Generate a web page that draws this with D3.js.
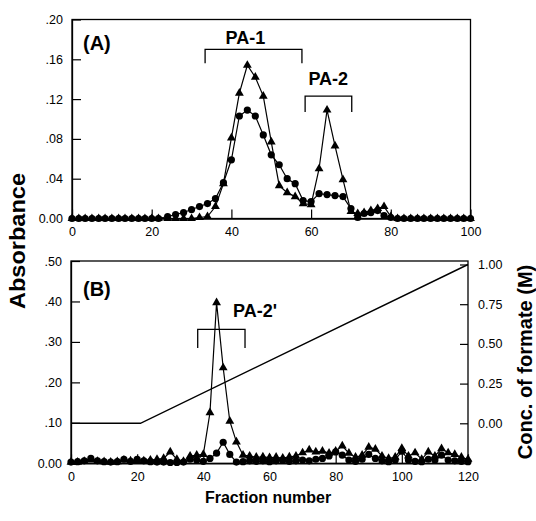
<!DOCTYPE html>
<html>
<head>
<meta charset="utf-8">
<script src="https://cdn.jsdelivr.net/npm/d3@7"></script>
<style>
  body { margin: 0; background: #fff; }
  svg text { font-family: "Liberation Sans", Arial, sans-serif; fill: #000; }
</style>
</head>
<body>
<div id="container"></div>
<script>
// Panel (A) data: fraction numbers and the two absorbance series
const fracA = [0, 1.7, 3.3, 5, 6.7, 8.3, 10, 11.7, 13.3, 15, 16.7, 18.3, 20, 21.7,
  24, 26, 28, 30, 32, 34, 36, 38, 40, 42, 44, 46, 48, 50, 52, 54, 56, 58, 60, 62, 64, 66, 68, 70,
  71.7, 73.3, 75, 76.7, 78.3, 80, 81.7, 83.3, 85, 86.7, 88.3, 90, 91.7, 93.3, 95, 96.7, 98.3, 100];
const circlesA = [0, 0, 0, 0, 0, 0, 0, 0, 0, 0, 0, 0, 0, 0,
  0.002, 0.004, 0.006, 0.009, 0.012, 0.015, 0.020, 0.036, 0.059, 0.103, 0.109, 0.103, 0.084, 0.064,
  0.054, 0.040, 0.035, 0.018, 0.017, 0.025, 0.024, 0.023, 0.022, 0.010,
  0.001, 0.005, 0.006, 0.008, 0.003, 0.001, 0, 0, 0, 0, 0, 0, 0, 0, 0, 0, 0, 0];
const trianglesA = [0, 0, 0, 0, 0, 0, 0, 0, 0, 0, 0, 0, 0, 0,
  0, 0, 0, 0, 0.001, 0.002, 0.012, 0.035, 0.081, 0.126, 0.154, 0.142, 0.123, 0.077,
  0.033, 0.026, 0.022, 0.015, 0.014, 0.050, 0.109, 0.073, 0.039, 0.007,
  0.005, 0.006, 0.008, 0.010, 0.012, 0.002, 0, 0, 0, 0, 0, 0, 0, 0, 0, 0, 0, 0];

// Panel (B) data
const fracB = [0, 2, 4, 6, 8, 10, 12, 14, 16, 18, 20, 22, 24, 26, 28, 30, 32, 34, 36, 38, 40,
  42, 44, 46, 48, 50, 52, 54, 56, 58, 60, 62, 64, 66, 68, 70, 72, 74, 76, 78, 80,
  82, 84, 86, 88, 90, 92, 94, 96, 98, 100, 102, 104, 106, 108, 110, 112, 114, 116, 118, 120];
const trianglesB = [0.003, 0.003, 0.005, 0.008, 0.005, 0.004, 0.003, 0.004, 0.008, 0.006, 0.005,
  0.006, 0.008, 0.010, 0.012, 0.028, 0.010, 0.005, 0.018, 0.020, 0.022,
  0.125, 0.397, 0.236, 0.104, 0.053, 0.020, 0.018, 0.015, 0.016, 0.014,
  0.015, 0.013, 0.016, 0.018, 0.026, 0.033, 0.028, 0.030, 0.025, 0.030,
  0.043, 0.025, 0.015, 0.020, 0.040, 0.035, 0.018, 0.012, 0.015, 0.037,
  0.018, 0.026, 0.010, 0.028, 0.018, 0.036, 0.026, 0.022, 0.015, 0.010];
const circlesB = [0.003, 0.004, 0.006, 0.012, 0.006, 0.004, 0.003, 0.004, 0.010, 0.005, 0.010,
  0.006, 0.004, 0.003, 0.003, 0.002, 0.002, 0.003, 0.010, 0.008, 0.005,
  0.012, 0.025, 0.052, 0.022, 0.003, 0.004, 0.006, 0.005, 0.006, 0.004,
  0.006, 0.007, 0.005, 0.006, 0.008, 0.006, 0.010, 0.012, 0.018, 0.028,
  0.020, 0.008, 0.005, 0.010, 0.022, 0.012, 0.006, 0.004, 0.008, 0.030,
  0.008, 0.005, 0.004, 0.010, 0.008, 0.020, 0.008, 0.006, 0.005, 0.004];

// formate gradient (M)
const gradFrac = [0, 21, 120];
const gradConc = [0, 0, 1.0];

// tick values
const ticksXA = [0, 20, 40, 60, 80, 100];
const ticksYA = [0, 0.04, 0.08, 0.12, 0.16, 0.20];
const ticksXB = [0, 20, 40, 60, 80, 100, 120];
const ticksYB = [0, 0.1, 0.2, 0.3, 0.4, 0.5];
const ticksConc = [0, 0.25, 0.5, 0.75, 1.0];

const width = 536;
const height = 521;

const svg = d3.create("svg")
  .attr("width", width)
  .attr("height", height)
  .attr("viewBox", [0, 0, width, height]);

// scales
const xA = d3.scaleLinear([0, 100], [72, 470.5]);
const yA = d3.scaleLinear([0, 0.2], [218.5, 19.5]);
const xB = d3.scaleLinear([0, 120], [71, 468]);
const yB = d3.scaleLinear([0, 0.5], [463.3, 261]);
const yC = d3.scaleLinear([0, 1], [423.3, 264.5]);

const absFmt = (d) => d === 0 ? "0.00" : d3.format(".2f")(d).replace(/^0/, "");

function drawAxes(x, y, tx, ty) {
  const [x0, x1] = x.range();
  const [y0, y1] = y.range();
  svg.append("rect")
    .attr("x", x0).attr("y", y1)
    .attr("width", x1 - x0).attr("height", y0 - y1)
    .attr("fill", "none").attr("stroke", "#000").attr("stroke-width", 1.3);

  const gx = svg.append("g")
    .attr("transform", `translate(0,${y0})`)
    .call(d3.axisBottom(x).tickValues(tx).tickSize(-9).tickSizeOuter(0).tickPadding(9));
  const gy = svg.append("g")
    .attr("transform", `translate(${x0},0)`)
    .call(d3.axisLeft(y).tickValues(ty).tickFormat(absFmt).tickSize(-9).tickSizeOuter(0).tickPadding(9));
  [gx, gy].forEach((g) => {
    g.select(".domain").attr("stroke-width", 1.3);
    g.selectAll(".tick line").attr("stroke-width", 1.2);
    g.selectAll("text").attr("font-size", 12.5).attr("font-family", null);
  });
}

function drawSeries(x, y, fr, vals, kind) {
  const pts = fr.map((f, i) => [f, vals[i]]);
  svg.append("path")
    .datum(pts)
    .attr("fill", "none")
    .attr("stroke", "#000")
    .attr("stroke-width", 1.2)
    .attr("d", d3.line().x((d) => x(d[0])).y((d) => y(d[1])));
  if (kind === "circle") {
    svg.append("g").selectAll("circle")
      .data(pts)
      .join("circle")
      .attr("cx", (d) => x(d[0]))
      .attr("cy", (d) => y(d[1]))
      .attr("r", 3.6)
      .attr("fill", "#000");
  } else {
    svg.append("g").selectAll("path")
      .data(pts)
      .join("path")
      .attr("transform", (d) => `translate(${x(d[0])},${y(d[1])})`)
      .attr("d", d3.symbol(d3.symbolTriangle, 34))
      .attr("fill", "#000");
  }
}

function bracket(x, y, f0, f1, top, bottom) {
  svg.append("path")
    .attr("fill", "none")
    .attr("stroke", "#000")
    .attr("stroke-width", 1.3)
    .attr("d", `M${x(f0)},${y(bottom)}V${y(top)}H${x(f1)}V${y(bottom)}`);
}

// ---- panel A ----
drawAxes(xA, yA, ticksXA, ticksYA);
drawSeries(xA, yA, fracA, circlesA, "circle");
drawSeries(xA, yA, fracA, trianglesA, "triangle");
bracket(xA, yA, 33.4, 57.7, 0.170, 0.156);
bracket(xA, yA, 58.5, 70.2, 0.123, 0.107);
svg.append("text").attr("x", xA(43.5)).attr("y", yA(0.175))
  .attr("text-anchor", "middle").attr("font-size", 18).attr("font-weight", "bold").text("PA-1");
svg.append("text").attr("x", xA(64.3)).attr("y", yA(0.134))
  .attr("text-anchor", "middle").attr("font-size", 18).attr("font-weight", "bold").text("PA-2");
svg.append("text").attr("x", 83).attr("y", 50)
  .attr("font-size", 20).attr("font-weight", "bold").text("(A)");

// ---- panel B ----
drawAxes(xB, yB, ticksXB, ticksYB);
const gc = svg.append("g")
  .attr("transform", `translate(${xB.range()[1]},0)`)
  .call(d3.axisRight(yC).tickValues(ticksConc).tickFormat(d3.format(".2f")).tickSize(-8).tickSizeOuter(0).tickPadding(10));
gc.select(".domain").remove();
gc.selectAll(".tick line").attr("stroke-width", 1.2);
gc.selectAll("text").attr("font-size", 12.5).attr("font-family", null);

svg.append("path")
  .datum(gradFrac.map((f, i) => [f, gradConc[i]]))
  .attr("fill", "none").attr("stroke", "#000").attr("stroke-width", 1.4)
  .attr("d", d3.line().x((d) => xB(d[0])).y((d) => yC(d[1])));

drawSeries(xB, yB, fracB, trianglesB, "triangle");
drawSeries(xB, yB, fracB, circlesB, "circle");
bracket(xB, yB, 38.3, 52.6, 0.331, 0.285);
svg.append("text").attr("x", xB(49)).attr("y", yB(0.362))
  .attr("font-size", 18).attr("font-weight", "bold").text("PA-2'");
svg.append("text").attr("x", 83).attr("y", 296)
  .attr("font-size", 20).attr("font-weight", "bold").text("(B)");

// axis titles
svg.append("text")
  .attr("transform", "translate(25,241) rotate(-90)")
  .attr("text-anchor", "middle").attr("font-size", 22).attr("font-weight", "bold")
  .attr("textLength", 136).attr("lengthAdjust", "spacingAndGlyphs")
  .text("Absorbance");
svg.append("text")
  .attr("transform", "translate(532,362) rotate(-90)")
  .attr("text-anchor", "middle").attr("font-size", 20).attr("font-weight", "bold")
  .text("Conc. of formate (M)");
svg.append("text")
  .attr("x", 268).attr("y", 503)
  .attr("text-anchor", "middle").attr("font-size", 16).attr("font-weight", "bold")
  .text("Fraction number");

document.getElementById("container").append(svg.node());
</script>
</body>
</html>
